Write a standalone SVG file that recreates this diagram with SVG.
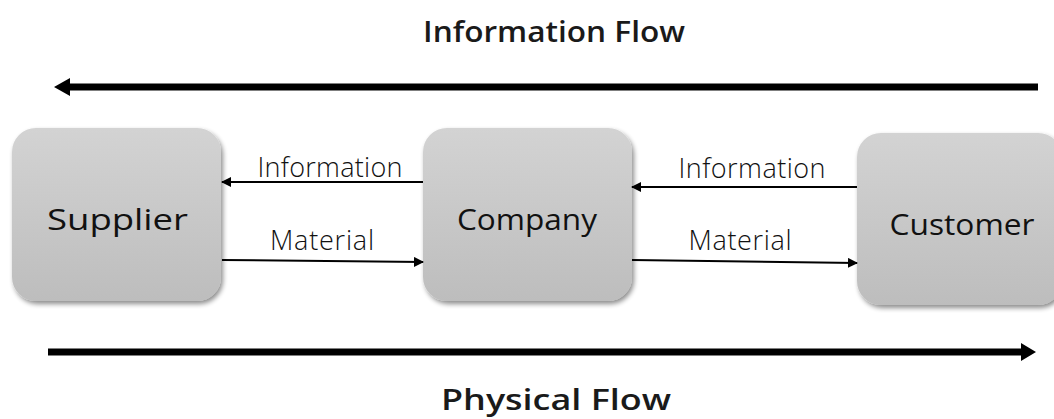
<svg xmlns="http://www.w3.org/2000/svg" width="1054" height="419" viewBox="0 0 1054 419">
<defs>
<linearGradient id="g" x1="0" y1="0" x2="0" y2="1">
<stop offset="0" stop-color="#d3d3d3"/>
<stop offset="1" stop-color="#bdbdbd"/>
</linearGradient>
<filter id="sh" x="-10%" y="-10%" width="125%" height="125%">
<feGaussianBlur in="SourceAlpha" stdDeviation="2.5"/>
<feOffset dx="2" dy="3"/>
<feComponentTransfer><feFuncA type="linear" slope="0.45"/></feComponentTransfer>
<feMerge><feMergeNode/><feMergeNode in="SourceGraphic"/></feMerge>
</filter>
<marker id="ah" markerWidth="10" markerHeight="10" refX="9" refY="5" orient="auto" markerUnits="userSpaceOnUse">
<path d="M0,0 L10,5 L0,10 Z" fill="#000"/>
</marker>
</defs>
<style>
.box{fill:url(#g);filter:url(#sh)}
.nt{font-family:"Open Sans","Noto Sans",sans-serif;font-size:29px;fill:#111;text-anchor:middle}
.lb{font-family:"Open Sans","Noto Sans",sans-serif;font-size:27px;fill:#111;text-anchor:middle;font-weight:300}
.tt{font-family:"Open Sans","Noto Sans",sans-serif;font-size:28px;fill:#1a1a1a;text-anchor:middle;font-weight:600}
.c{stroke:#000;stroke-width:2;fill:none;marker-end:url(#ah)}
</style>
<text class="tt" x="554" y="42" textLength="262" lengthAdjust="spacingAndGlyphs">Information Flow</text>
<text class="tt" x="556" y="410" textLength="230" lengthAdjust="spacingAndGlyphs">Physical Flow</text>
<g id="flows">
<path d="M1038,83.5 L70,83.5 L70,78 L54,87 L70,96 L70,90.5 L1038,90.5 Z" fill="#000"/>
<path d="M48,348.5 L1021,348.5 L1021,343 L1036,352 L1021,361 L1021,355.5 L48,355.5 Z" fill="#000"/>
</g>
<g id="supplier">
<rect class="box" x="12" y="128" width="209" height="173" rx="24"/>
<text class="nt" x="117.5" y="230" textLength="141" lengthAdjust="spacingAndGlyphs">Supplier</text>
</g>
<g id="company">
<rect class="box" x="423" y="128" width="209" height="173" rx="24"/>
<text class="nt" x="527" y="230" textLength="140" lengthAdjust="spacingAndGlyphs">Company</text>
</g>
<g id="customer">
<rect class="box" x="857" y="133" width="205" height="172" rx="24"/>
<text class="nt" x="962" y="235" textLength="145" lengthAdjust="spacingAndGlyphs">Customer</text>
</g>
<g id="connectors">
<line class="c" x1="423" y1="182" x2="222" y2="182"/>
<line class="c" x1="222" y1="260" x2="423" y2="262"/>
<line class="c" x1="857" y1="187" x2="632" y2="187"/>
<line class="c" x1="632" y1="260" x2="857" y2="263"/>
</g>
<text class="lb" x="330" y="177" textLength="145">Information</text>
<text class="lb" x="322" y="250" textLength="104">Material</text>
<text class="lb" x="752" y="178" textLength="147">Information</text>
<text class="lb" x="740" y="250" textLength="103">Material</text>
</svg>
